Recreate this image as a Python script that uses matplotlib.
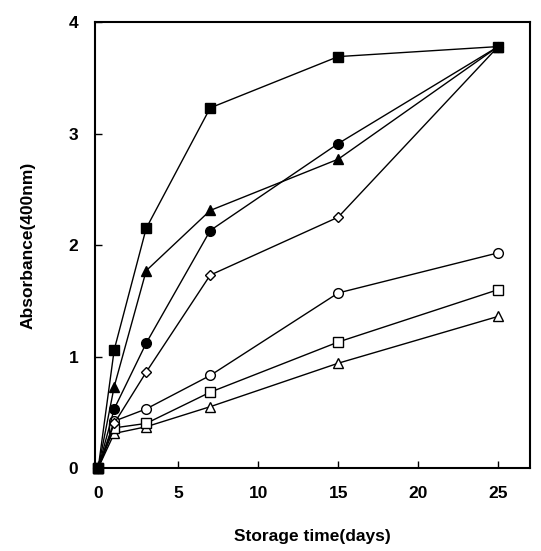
import numpy as np
import matplotlib.pyplot as plt

plt.rcParams['font.family'] = ['Liberation Sans', 'DejaVu Sans']

# storage time (days)
days = [0, 1, 3, 7, 15, 25]

# absorbance at 400 nm
filled_square = [0.0, 1.06, 2.15, 3.23, 3.69, 3.78]
filled_triangle = [0.0, 0.73, 1.77, 2.31, 2.77, 3.78]
filled_circle = [0.0, 0.53, 1.12, 2.13, 2.91, 3.78]
open_diamond = [0.0, 0.40, 0.86, 1.73, 2.25, 3.78]
open_circle = [0.0, 0.42, 0.53, 0.83, 1.57, 1.93]
open_square = [0.0, 0.36, 0.40, 0.68, 1.13, 1.60]
open_triangle = [0.0, 0.31, 0.37, 0.55, 0.94, 1.36]

# drawn from bottom to top so the filled square ends up on top
series = [
    (open_triangle, '^', 'white'),
    (open_square, 's', 'white'),
    (open_circle, 'o', 'white'),
    (open_diamond, 'D', 'white'),
    (filled_circle, 'o', 'black'),
    (filled_triangle, '^', 'black'),
    (filled_square, 's', 'black'),
]

fig = plt.figure(figsize=(5.41, 5.51), dpi=100)
ax = fig.add_axes([0.1756, 0.1506, 0.8044, 0.8094])

for vals, mk, fc in series:
    ms = 5.5 if mk == 'D' else 7
    ax.plot(days, vals, '-', color='black', lw=1.0, marker=mk, ms=ms,
            mfc=fc, mec='black', mew=1.0, clip_on=False)

ax.set_xlim(-0.2, 27)
ax.set_ylim(0, 4)
ax.set_xticks([0, 5, 10, 15, 20, 25])
ax.set_yticks([0, 1, 2, 3, 4])
ax.tick_params(direction='in', length=5, width=1, top=False, right=False)
ax.tick_params(axis='x', pad=13, labelsize=12.5)
ax.tick_params(axis='y', pad=12, labelsize=12.5)
for lab in ax.get_xticklabels() + ax.get_yticklabels():
    lab.set_fontweight('bold')
for s in ax.spines.values():
    s.set_linewidth(1.5)

ax.set_xlabel('Storage time(days)', fontsize=12.5, fontweight='bold', labelpad=20)
ax.set_ylabel('Absorbance(400nm)', fontsize=12.5, fontweight='bold', labelpad=24)

fig.savefig('out.png', dpi=100)
